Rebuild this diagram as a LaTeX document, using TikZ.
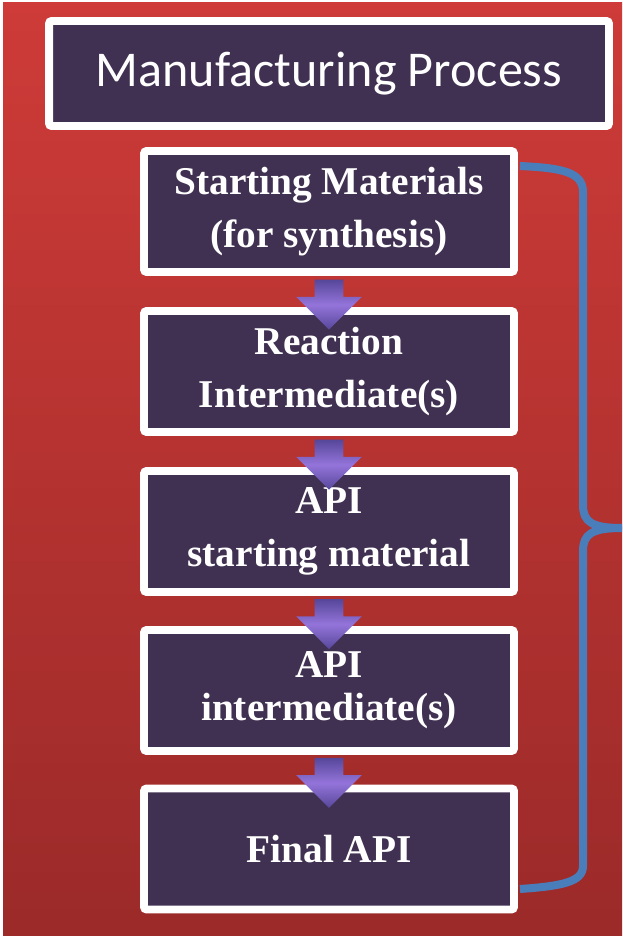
\documentclass[tikz,border=0pt]{standalone}
\usepackage{fontspec}
\setmainfont{Liberation Serif}
\newfontfamily\titlefont{Carlito}
\usepackage{tikz}
\usetikzlibrary{positioning,shapes,arrows,calc}
\definecolor{bgtop}{HTML}{CE3B38}
\definecolor{bgbottom}{HTML}{9B2A29}
\definecolor{boxfill}{HTML}{403052}
\definecolor{arrowlight}{HTML}{9474DA}
\definecolor{arrowdark}{HTML}{56479A}
\definecolor{bracecol}{HTML}{4A7EBB}

\tikzset{
  stagebox/.style={draw=white, line width=4.5pt, fill=boxfill, rounded corners=1.5pt,
    minimum width=7.4cm, minimum height=2.42cm, text=white, align=center,
    font=\bfseries\fontsize{22.4}{30.5}\selectfont},
  tightbox/.style={stagebox, font=\bfseries\fontsize{22.4}{24.5}\selectfont},
  titlebox/.style={stagebox, minimum width=11.2cm, minimum height=2.1cm,
    font=\titlefont\fontsize{28.5}{32}\selectfont},
  downarrow/.style={single arrow, rotate=-90, minimum height=1.0cm,
    minimum width=1.3cm, single arrow head extend=0.37cm,
    inner xsep=0.02cm, inner ysep=0.28cm,
    top color=arrowdark, bottom color=arrowdark, middle color=arrowlight},
  brace/.style={draw=bracecol, line width=0.16cm}
}

\begin{document}
\begin{tikzpicture}[x=0.02cm, y=-0.02cm]
  \useasboundingbox (0,0) rectangle (622,936);
  \shade[top color=bgtop, bottom color=bgbottom] (3,3) rectangle (622,936);

  \node[titlebox] (title) at (329,73.5) {Manufacturing Process};

  \node[stagebox] (s1) at (329,211.5) {Starting Materials\\(for synthesis)};
  \node[stagebox] (s2) at (329,371.5) {Reaction\\Intermediate(s)};
  \node[stagebox] (s3) at (329,531.5) {API\\starting material};
  \node[tightbox] (s4) at (329,690.5) {API\\intermediate(s)};
  \node[stagebox] (s5) at (329,849) {Final API};

  % arrows between the stages
  \foreach \a/\b in {s1/s2,s2/s3,s3/s4,s4/s5}
    \node[downarrow] (\a\b) at ($(\a.south)!0.5!(\b.north)+(0,6)$) {};

  % brace on the right
  \coordinate (btop) at (520,166);
  \coordinate (btip) at (622,528);
  \coordinate (bbot) at (520,889);
  \draw[brace] (btop) .. controls (562,168) and (583,172) .. (583,192) -- (583,505)
    .. controls (583,522) and (592,528) .. (btip);
  \draw[brace] (btip) .. controls (592,528) and (583,534) .. (583,551) -- (583,866)
    .. controls (583,882) and (562,886) .. (bbot);
\end{tikzpicture}
\end{document}
